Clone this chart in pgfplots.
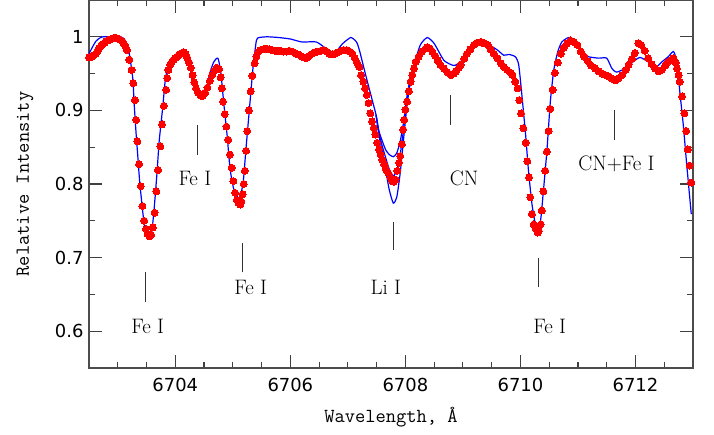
\documentclass[border=0pt]{standalone}
\usepackage{fontspec}
\usepackage{pgfplots}
\usepackage{pgfplotstable}
\pgfplotsset{compat=1.18}
\newfontfamily\dejavu{DejaVu Sans}
\definecolor{obsred}{RGB}{255,0,0}
\definecolor{modblue}{RGB}{0,0,255}

\pgfplotstableread{
x y
6702.50 0.972
6702.53 0.972
6702.56 0.973
6702.59 0.975
6702.62 0.977
6702.65 0.981
6702.68 0.985
6702.71 0.988
6702.74 0.990
6702.77 0.992
6702.80 0.994
6702.83 0.995
6702.86 0.996
6702.89 0.997
6702.92 0.998
6702.95 0.999
6702.98 0.998
6703.01 0.997
6703.04 0.996
6703.07 0.994
6703.10 0.991
6703.13 0.988
6703.16 0.982
6703.20 0.969
6703.24 0.955
6703.27 0.937
6703.30 0.914
6703.32 0.887
6703.34 0.858
6703.37 0.827
6703.40 0.797
6703.43 0.770
6703.46 0.750
6703.49 0.739
6703.52 0.732
6703.55 0.729
6703.58 0.731
6703.61 0.741
6703.64 0.761
6703.67 0.790
6703.70 0.819
6703.74 0.851
6703.77 0.881
6703.80 0.906
6703.84 0.928
6703.86 0.944
6703.88 0.955
6703.91 0.962
6703.94 0.966
6703.97 0.969
6704.00 0.971
6704.03 0.973
6704.06 0.975
6704.09 0.977
6704.12 0.978
6704.15 0.979
6704.18 0.976
6704.21 0.971
6704.24 0.965
6704.27 0.958
6704.30 0.948
6704.33 0.938
6704.36 0.930
6704.40 0.924
6704.44 0.920
6704.48 0.920
6704.52 0.924
6704.56 0.931
6704.60 0.940
6704.64 0.948
6704.68 0.954
6704.72 0.958
6704.76 0.956
6704.79 0.945
6704.81 0.930
6704.83 0.912
6704.86 0.895
6704.89 0.878
6704.92 0.860
6704.95 0.840
6704.98 0.822
6705.01 0.804
6705.04 0.788
6705.07 0.778
6705.10 0.774
6705.13 0.772
6705.15 0.776
6705.17 0.786
6705.19 0.800
6705.21 0.818
6705.23 0.845
6705.25 0.872
6705.28 0.900
6705.31 0.926
6705.34 0.947
6705.38 0.964
6705.41 0.973
6705.44 0.979
6705.48 0.982
6705.53 0.983
6705.58 0.984
6705.63 0.983
6705.68 0.982
6705.73 0.981
6705.78 0.981
6705.83 0.981
6705.88 0.980
6705.93 0.980
6705.98 0.981
6706.03 0.980
6706.08 0.978
6706.13 0.976
6706.18 0.974
6706.23 0.972
6706.28 0.971
6706.33 0.974
6706.38 0.977
6706.43 0.979
6706.48 0.980
6706.53 0.981
6706.58 0.982
6706.63 0.980
6706.68 0.977
6706.73 0.976
6706.78 0.977
6706.83 0.979
6706.88 0.981
6706.93 0.982
6706.98 0.982
6707.03 0.980
6707.08 0.977
6707.12 0.971
6707.16 0.965
6707.20 0.959
6707.23 0.948
6707.27 0.939
6707.30 0.930
6707.33 0.921
6707.36 0.910
6707.39 0.896
6707.42 0.885
6707.45 0.876
6707.48 0.867
6707.51 0.856
6707.54 0.847
6707.57 0.840
6707.60 0.833
6707.63 0.827
6707.66 0.820
6707.70 0.815
6707.74 0.809
6707.77 0.804
6707.80 0.803
6707.83 0.806
6707.86 0.818
6707.89 0.829
6707.91 0.838
6707.94 0.854
6707.96 0.874
6707.98 0.887
6708.00 0.901
6708.03 0.912
6708.06 0.926
6708.09 0.939
6708.12 0.948
6708.15 0.957
6708.18 0.966
6708.23 0.973
6708.29 0.980
6708.35 0.984
6708.38 0.986
6708.43 0.984
6708.47 0.980
6708.52 0.974
6708.56 0.968
6708.61 0.962
6708.67 0.957
6708.73 0.952
6708.79 0.948
6708.84 0.950
6708.88 0.953
6708.93 0.958
6708.96 0.962
6709.02 0.970
6709.07 0.977
6709.13 0.983
6709.19 0.989
6709.25 0.992
6709.31 0.993
6709.37 0.991
6709.43 0.989
6709.48 0.983
6709.54 0.977
6709.60 0.971
6709.66 0.964
6709.71 0.959
6709.77 0.955
6709.83 0.951
6709.86 0.948
6709.91 0.939
6709.95 0.930
6709.98 0.914
6710.01 0.896
6710.05 0.876
6710.09 0.856
6710.12 0.831
6710.15 0.809
6710.17 0.782
6710.20 0.759
6710.23 0.745
6710.27 0.739
6710.30 0.734
6710.32 0.736
6710.35 0.745
6710.37 0.764
6710.40 0.790
6710.43 0.818
6710.46 0.844
6710.49 0.872
6710.52 0.902
6710.56 0.928
6710.60 0.951
6710.65 0.965
6710.70 0.977
6710.75 0.985
6710.81 0.991
6710.87 0.995
6710.93 0.993
6710.99 0.989
6711.05 0.980
6711.11 0.973
6711.17 0.967
6711.23 0.961
6711.30 0.957
6711.36 0.953
6711.42 0.950
6711.48 0.948
6711.54 0.946
6711.60 0.943
6711.65 0.941
6711.71 0.944
6711.77 0.948
6711.83 0.955
6711.88 0.962
6711.94 0.970
6711.99 0.978
6712.05 0.991
6712.10 0.989
6712.16 0.981
6712.22 0.971
6712.28 0.963
6712.34 0.957
6712.40 0.953
6712.46 0.955
6712.52 0.961
6712.57 0.966
6712.62 0.968
6712.66 0.971
6712.70 0.965
6712.72 0.957
6712.75 0.948
6712.77 0.939
6712.81 0.919
6712.85 0.896
6712.88 0.872
6712.91 0.847
6712.94 0.825
6712.97 0.802
}\obs

\pgfplotstableread{
x y
6702.50 0.977
6702.56 0.986
6702.62 0.994
6702.68 0.998
6702.74 1.000
6702.85 1.000
6702.95 1.000
6703.05 1.000
6703.10 0.998
6703.14 0.993
6703.20 0.977
6703.26 0.944
6703.29 0.903
6703.32 0.867
6703.35 0.836
6703.38 0.804
6703.42 0.773
6703.46 0.745
6703.51 0.730
6703.55 0.725
6703.59 0.734
6703.63 0.764
6703.68 0.813
6703.72 0.858
6703.78 0.903
6703.83 0.944
6703.89 0.962
6703.98 0.966
6704.06 0.973
6704.16 0.982
6704.23 0.971
6704.29 0.948
6704.38 0.928
6704.45 0.919
6704.53 0.928
6704.61 0.953
6704.67 0.966
6704.74 0.971
6704.79 0.953
6704.84 0.912
6704.90 0.867
6704.95 0.822
6705.01 0.795
6705.07 0.784
6705.12 0.781
6705.18 0.802
6705.23 0.849
6705.29 0.903
6705.35 0.957
6705.41 0.995
6705.46 0.999
6705.60 1.000
6705.80 0.999
6706.00 0.997
6706.20 0.993
6706.45 0.993
6706.60 0.985
6706.74 0.975
6706.90 0.990
6707.05 0.999
6707.15 0.993
6707.20 0.982
6707.31 0.948
6707.43 0.912
6707.49 0.894
6707.54 0.872
6707.60 0.858
6707.66 0.846
6707.72 0.840
6707.79 0.837
6707.85 0.842
6707.91 0.858
6707.97 0.885
6708.03 0.920
6708.10 0.950
6708.15 0.962
6708.26 0.989
6708.38 0.999
6708.50 0.991
6708.67 0.968
6708.84 0.961
6708.96 0.966
6709.13 0.984
6709.28 0.995
6709.42 0.991
6709.60 0.982
6709.71 0.975
6709.80 0.976
6709.91 0.973
6709.97 0.962
6710.03 0.917
6710.09 0.867
6710.14 0.818
6710.20 0.773
6710.26 0.745
6710.30 0.737
6710.35 0.750
6710.40 0.791
6710.46 0.845
6710.52 0.912
6710.58 0.955
6710.65 0.980
6710.72 0.993
6710.84 0.999
6710.95 0.993
6711.07 0.980
6711.18 0.973
6711.36 0.971
6711.50 0.971
6711.59 0.957
6711.67 0.952
6711.82 0.957
6711.99 0.968
6712.08 0.972
6712.22 0.966
6712.33 0.957
6712.46 0.966
6712.57 0.973
6712.66 0.980
6712.72 0.966
6712.77 0.926
6712.83 0.881
6712.89 0.827
6712.97 0.759
}\modA

\pgfplotstableread{
x y
6707.49 0.894
6707.54 0.870
6707.60 0.851
6707.66 0.835
6707.72 0.820
6707.79 0.811
6707.85 0.818
6707.91 0.840
6707.97 0.875
6708.03 0.915
6708.10 0.948
6708.15 0.962
}\modB

\pgfplotstableread{
x y
6707.49 0.894
6707.54 0.866
6707.60 0.843
6707.66 0.818
6707.72 0.792
6707.79 0.774
6707.85 0.782
6707.91 0.815
6707.97 0.862
6708.03 0.908
6708.10 0.945
6708.15 0.962
}\modC

\begin{document}
\begin{tikzpicture}
\begin{axis}[
  name=ax,
  scale only axis,
  width=604bp, height=368bp,
  xmin=6702.5, xmax=6713,
  ymin=0.55, ymax=1.05,
  xtick={6702,6704,6706,6708,6710,6712,6714},
  minor x tick num=3,
  ytick={0.5,0.6,0.7,0.8,0.9,1,1.1},
  minor y tick num=1,
  major tick length=13bp,
  minor tick length=6.5bp,
  tick style={line width=1.1bp, black!75},
  axis line style={line width=1.3bp, black!70},
  /pgf/number format/1000 sep={},
  /pgf/number format/assume math mode=true,
  ticklabel style={font=\fontsize{18}{21}\selectfont\dejavu},
  xticklabel style={yshift=-7bp},
  yticklabel style={xshift=-2bp},
  xlabel={Wavelength, Å},
  ylabel={Relative Intensity},
  label style={font=\fontsize{20}{23}\selectfont\ttfamily},
  xlabel style={at={(axis description cs:0.5,-0.133)}, anchor=center},
  ylabel style={at={(axis description cs:-0.106,0.5)}, anchor=center},
]
\addplot[only marks, mark=*, mark size=3.5bp, mark options={fill=obsred, draw=obsred, line width=0pt}] table[x=x,y=y] {\obs};
\addplot[modblue, line width=1.2bp, smooth, tension=0.35] table[x=x,y=y] {\modA};
\addplot[modblue, line width=1.2bp, smooth, tension=0.35] table[x=x,y=y] {\modB};
\addplot[modblue, line width=1.2bp, smooth, tension=0.35] table[x=x,y=y] {\modC};

\draw[line width=1bp, black!80] (axis cs:6703.49,0.640) -- (axis cs:6703.49,0.680);
\draw[line width=1bp, black!80] (axis cs:6704.39,0.840) -- (axis cs:6704.39,0.880);
\draw[line width=1bp, black!80] (axis cs:6705.16,0.680) -- (axis cs:6705.16,0.720);
\draw[line width=1bp, black!80] (axis cs:6707.79,0.710) -- (axis cs:6707.79,0.749);
\draw[line width=1bp, black!80] (axis cs:6708.79,0.880) -- (axis cs:6708.79,0.921);
\draw[line width=1bp, black!80] (axis cs:6710.32,0.660) -- (axis cs:6710.32,0.700);
\draw[line width=1bp, black!80] (axis cs:6711.63,0.860) -- (axis cs:6711.63,0.901);

\node[font=\fontsize{21}{24}\selectfont, anchor=center] at (axis cs:6703.52,0.607) {Fe I};
\node[font=\fontsize{21}{24}\selectfont, anchor=center] at (axis cs:6704.34,0.807) {Fe I};
\node[font=\fontsize{21}{24}\selectfont, anchor=center] at (axis cs:6705.31,0.659) {Fe I};
\node[font=\fontsize{21}{24}\selectfont, anchor=center] at (axis cs:6707.66,0.659) {Li I};
\node[font=\fontsize{21}{24}\selectfont, anchor=center] at (axis cs:6709.02,0.807) {CN};
\node[font=\fontsize{21}{24}\selectfont, anchor=center] at (axis cs:6710.51,0.607) {Fe I};
\node[font=\fontsize{21}{24}\selectfont, anchor=center] at (axis cs:6711.67,0.827) {CN+Fe I};
\end{axis}
\pgfresetboundingbox
\path[use as bounding box] ([shift={(-89bp,-67bp)}]ax.south west) rectangle ([shift={(21bp,0bp)}]ax.north east);
\end{tikzpicture}
\end{document}
